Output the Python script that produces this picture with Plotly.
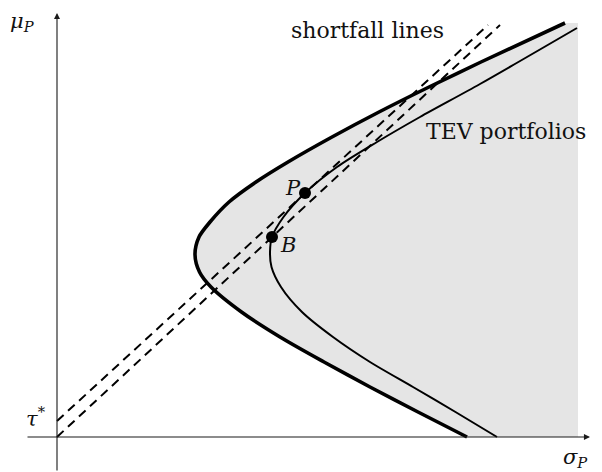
import plotly.graph_objects as go

# Mean-variance frontier (sigma, mu), lower branch to upper branch
frontier_sigma = [8.20, 7.22, 6.26, 5.34, 4.46, 3.69, 3.08, 2.85, 2.76, 2.84, 3.06, 3.44,
                  3.98, 4.62, 5.50, 6.44, 7.44, 8.48, 10.16]
frontier_mu = [0.00, 0.50, 1.00, 1.50, 2.00, 2.50, 3.00, 3.30, 3.65, 4.00, 4.30, 4.70,
               5.10, 5.50, 6.00, 6.50, 7.00, 7.50, 8.28]

# Tracking-error-volatility portfolios
tev_sigma = [8.80, 7.97, 7.12, 6.26, 5.52, 4.90, 4.48, 4.29, 4.26, 4.30, 4.53, 4.96,
             5.60, 6.40, 7.26, 8.46, 10.40]
tev_mu = [0.00, 0.50, 1.00, 1.50, 2.00, 2.50, 3.00, 3.40, 3.70, 4.00, 4.40, 4.88,
          5.40, 5.90, 6.40, 7.06, 8.18]

# Benchmark B and portfolio P
point_names = ["B", "P"]
point_sigma = [4.30, 4.96]
point_mu = [4.00, 4.88]

# Shortfall lines: through the origin and B, and through tau* and P
tau_star = 0.32
shortfall_low_sigma = [0.0, 8.86]
shortfall_low_mu = [0.0, 8.24]
shortfall_high_sigma = [0.0, 8.62]
shortfall_high_mu = [tau_star, 8.24]

# Extent of the shaded feasible region
shade_right = 10.42
shade_top = 8.28

fig = go.Figure()

# shaded region right of the frontier
fig.add_trace(go.Scatter(
    x=frontier_sigma + [shade_right, shade_right],
    y=frontier_mu + [shade_top, 0.0],
    fill="toself", fillcolor="#e5e5e5", mode="none", hoverinfo="skip"))

line_black = "#000000"
fig.add_trace(go.Scatter(x=tev_sigma, y=tev_mu, mode="lines",
                         line=dict(color=line_black, width=2, shape="spline", smoothing=0.8)))
fig.add_trace(go.Scatter(x=frontier_sigma, y=frontier_mu, mode="lines",
                         line=dict(color=line_black, width=3.6, shape="spline", smoothing=0.8)))
fig.add_trace(go.Scatter(x=shortfall_low_sigma, y=shortfall_low_mu, mode="lines",
                         line=dict(color=line_black, width=2, dash="9px,6px")))
fig.add_trace(go.Scatter(x=shortfall_high_sigma, y=shortfall_high_mu, mode="lines",
                         line=dict(color=line_black, width=2, dash="9px,6px")))
fig.add_trace(go.Scatter(x=point_sigma, y=point_mu, mode="markers",
                         marker=dict(color=line_black, size=12)))

x_min, x_max = -1.14, 10.90
y_min, y_max = -0.70, 8.74

# coordinate axes with arrow heads
axis_style = dict(showarrow=True, arrowhead=2, arrowsize=1.1, arrowwidth=1.1,
                  arrowcolor="#1a1a1a", axref="x", ayref="y", text="")
fig.add_annotation(x=10.66, y=0.0, ax=-0.62, ay=0.0, **axis_style)
fig.add_annotation(x=0.0, y=8.48, ax=0.0, ay=y_min, **axis_style)

serif = "DejaVu Serif"
text_font = dict(family=serif, size=22, color="#111111")
math_font = dict(family=serif, size=21, color="#111111")
labels = [
    ("<i>μ</i><sub><i>P</i></sub>", -0.70, 8.30, math_font),
    ("<i>σ</i><sub><i>P</i></sub>", 10.36, -0.42, math_font),
    ("<i>τ</i><sup>*</sup>", -0.42, 0.40, math_font),
    ("shortfall lines", 6.20, 8.14, text_font),
    ("TEV portfolios", 8.98, 6.12, text_font),
    ("<i>P</i>", 4.72, 4.98, math_font),
    ("<i>B</i>", 4.62, 3.84, math_font),
]
for txt, lx, ly, fnt in labels:
    fig.add_annotation(x=lx, y=ly, text=txt, showarrow=False, font=fnt,
                       xanchor="center", yanchor="middle")

fig.update_layout(
    width=602, height=472,
    margin=dict(l=0, r=0, t=0, b=0),
    paper_bgcolor="white", plot_bgcolor="white",
    showlegend=False,
    xaxis=dict(range=[x_min, x_max], visible=False, fixedrange=True),
    yaxis=dict(range=[y_min, y_max], visible=False, fixedrange=True),
)

fig.write_html("out.html")
